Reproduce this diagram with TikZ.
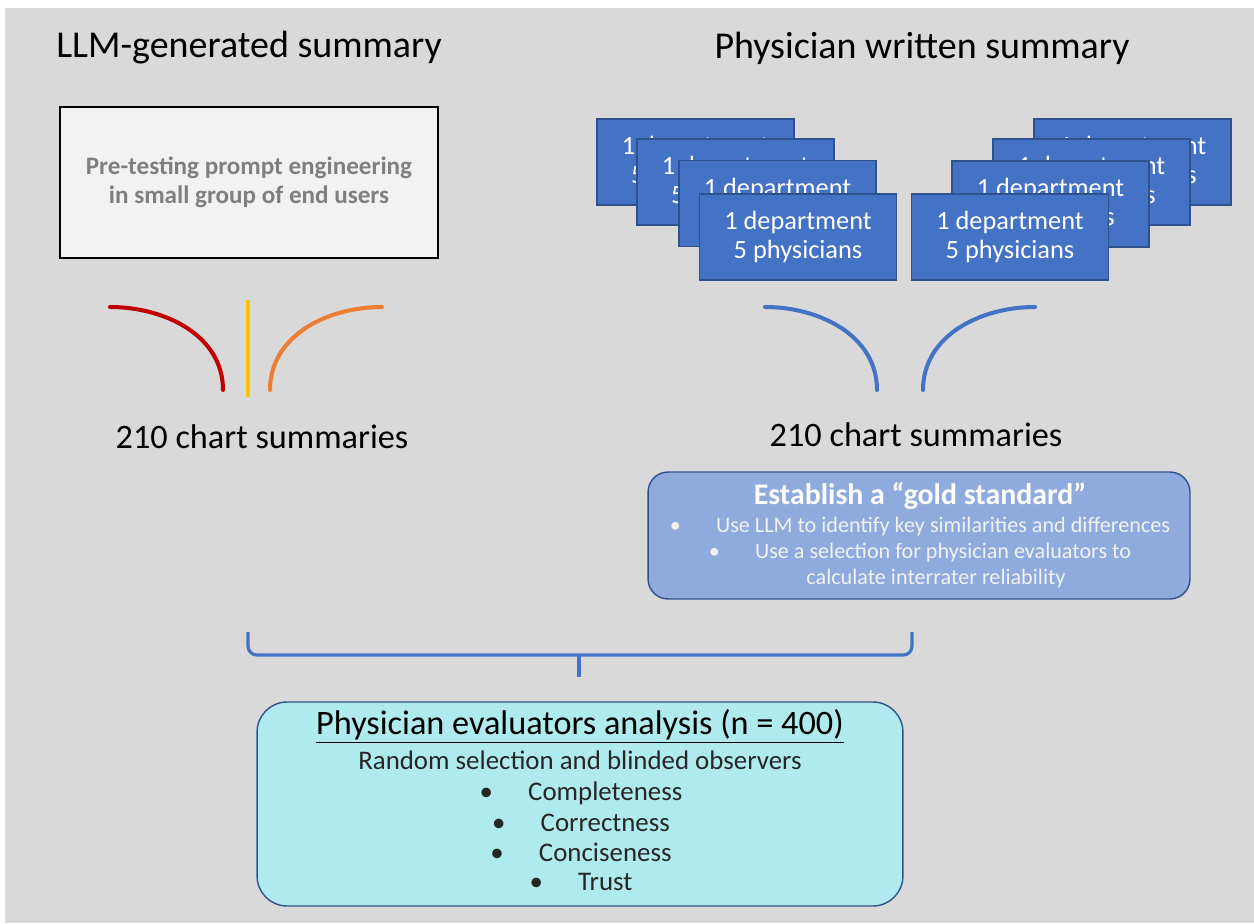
\documentclass[tikz,border=0pt]{standalone}
\usepackage{fontspec}
\setmainfont{Carlito}
\usetikzlibrary{positioning}

\definecolor{canvas}{HTML}{D9D9D9}
\definecolor{deptblue}{HTML}{4472C4}
\definecolor{deptline}{HTML}{2F528F}
\definecolor{goldfill}{HTML}{8FAADC}
\definecolor{evalfill}{HTML}{AFEBEE}
\definecolor{pregray}{HTML}{F2F2F2}
\definecolor{pretext}{HTML}{7F7F7F}
\definecolor{llmred}{HTML}{C00000}
\definecolor{llmyellow}{HTML}{FFC000}
\definecolor{llmorange}{HTML}{ED7D31}
\definecolor{evaltext}{HTML}{262626}

\tikzset{
  dept/.style={draw=deptline, fill=deptblue, text=white, line width=0.8pt,
    minimum width=3.94cm, minimum height=1.72cm, align=center,
    font=\fontsize{15}{16}\selectfont},
  stem/.style={line width=2.3pt, line cap=round},
  headline/.style={font=\fontsize{21.6}{24}\selectfont},
  countline/.style={font=\fontsize{19.5}{22}\selectfont},
  evenline/.style={text height=0.72em, text depth=0.22em, inner sep=1pt},
  goldline/.style={evenline, text=pregray, font=\fontsize{12.6}{14}\selectfont},
  evalline/.style={evenline, text=evaltext, font=\fontsize{15.3}{17}\selectfont},
}

\begin{document}
\begin{tikzpicture}[x=0.02cm,y=-0.02cm]
  \useasboundingbox (0,0) rectangle (1254,923);
  \fill[canvas] (5,8) rectangle (1254,923);

  % column headings
  \node[headline] (llmhead) at (249,48) {LLM-generated summary};
  \node[headline] (dochead) at (922,48) {Physician written summary};

  % LLM side
  \node[draw=black, fill=pregray, line width=0.8pt, minimum width=7.56cm,
    minimum height=3.02cm, align=center, text=pretext,
    font=\bfseries\fontsize{14.3}{16.4}\selectfont] (pretest) at (249,182.5)
    {Pre-testing prompt engineering\\in small group of end users};

  \coordinate (r0) at (110,307);  \coordinate (r1) at (223,390);
  \coordinate (y0) at (248,300);  \coordinate (y1) at (248,397);
  \coordinate (o0) at (382,307);  \coordinate (o1) at (270,390);
  \draw[stem, llmred] (r0) to[out=0, in=90] (r1);
  \draw[stem, llmyellow, line cap=butt] (y0) -- (y1);
  \draw[stem, llmorange] (o0) to[out=180, in=90] (o1);

  \node[countline] (llmcount) at (262,437) {210 chart summaries};

  % physician side: two stacks of departments
  \node[dept] (deptA) at (695.5,162) {1 department\\5 physicians};
  \node[dept] (deptB) at (735.5,182) {1 department\\5 physicians};
  \node[dept] (deptC) at (777.5,203.5) {1 department\\5 physicians};
  \node[dept] (deptD) at (798,237) {1 department\\5 physicians};
  \node[dept] (deptE) at (1132.5,162) {1 department\\5 physicians};
  \node[dept] (deptF) at (1091.5,182) {1 department\\5 physicians};
  \node[dept] (deptG) at (1050.5,204) {1 department\\5 physicians};
  \node[dept] (deptH) at (1010,237) {1 department\\5 physicians};

  \coordinate (b0) at (765,307);  \coordinate (b1) at (877,390);
  \coordinate (c0) at (1035,307); \coordinate (c1) at (923,390);
  \draw[stem, deptblue] (b0) to[out=0, in=90] (b1);
  \draw[stem, deptblue] (c0) to[out=180, in=90] (c1);

  \node[countline] (doccount) at (916,435) {210 chart summaries};

  % gold standard
  \node[draw=deptline, fill=goldfill, line width=0.8pt, rounded corners=0.4cm,
    minimum width=10.84cm, minimum height=2.54cm] (gold) at (919,535.5) {};
  \node[text=white, font=\bfseries\fontsize{17}{19}\selectfont] (goldhead) at (920,496)
    {Establish a “gold standard”};
  \node[goldline] (gold1) at (920,528)
    {\textbullet\hspace{20pt}Use LLM to identify key similarities and differences};
  \node[goldline] (gold2) at (920,554)
    {\textbullet\hspace{20pt}Use a selection for physician evaluators to};
  \node[goldline] (gold3) at (936,580) {calculate interrater reliability};

  % brace joining both sides
  \coordinate (brL) at (248,632);
  \coordinate (brR) at (912,632);
  \coordinate (brM) at (579,655);
  \coordinate (brT) at (579,677);
  \draw[line width=1.8pt, deptblue, rounded corners=5pt] (brL) |- (brM) -| (brR);
  \draw[line width=1.8pt, deptblue] (brM) -- (brT);

  % evaluation
  \node[draw=deptline, fill=evalfill, line width=0.8pt, rounded corners=0.6cm,
    minimum width=12.92cm, minimum height=4.08cm] (eval) at (580,804) {};
  \node[text=black, font=\fontsize{19.5}{21}\selectfont] (evalhead) at (580,726)
    {\underline{Physician evaluators analysis (n = 400)}};
  \node[evalline] (evalsub) at (580,765) {Random selection and blinded observers};
  \node[evalline] (crit1) at (581,796) {\textbullet\hspace{20pt}Completeness};
  \node[evalline] (crit2) at (581,827) {\textbullet\hspace{20pt}Correctness};
  \node[evalline] (crit3) at (581,857) {\textbullet\hspace{20pt}Conciseness};
  \node[evalline] (crit4) at (581,886) {\textbullet\hspace{20pt}Trust};
\end{tikzpicture}
\end{document}
